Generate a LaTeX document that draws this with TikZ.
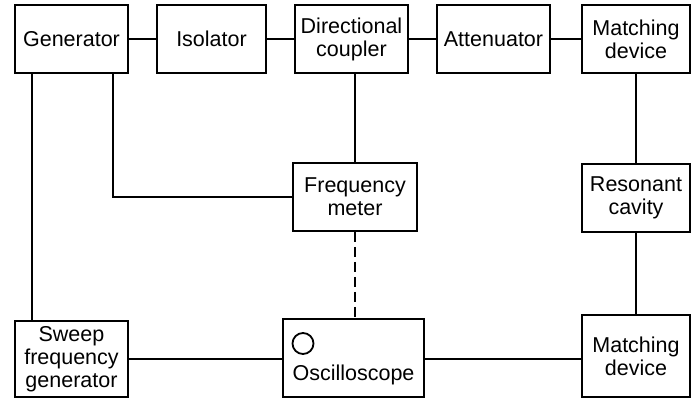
\documentclass[tikz,border=0pt]{standalone}
\usepackage{fontspec}
\setmainfont{Liberation Sans}
\begin{document}
\begin{tikzpicture}[x=1pt,y=-1pt,
  every node/.style={font=\fontsize{21.5}{23}\selectfont},
  box/.style={draw,line width=1.8pt,rectangle,inner sep=0pt,align=center,minimum height=68pt},
  wire/.style={line width=1.8pt}]
\useasboundingbox (0,0) rectangle (695,398);
\node[box,minimum width=113pt] (gen) at (71.5,39) {Generator};
\node[box,minimum width=109pt] (iso) at (211.5,39) {Isolator};
\node[box,minimum width=113pt] (dc) at (351.5,39) {Directional\\coupler};
\node[box,minimum width=113pt] (att) at (493.5,39) {Attenuator};
\node[box,minimum width=108pt] (md1) at (636,39) {Matching\\device};
\node[box,minimum width=124pt] (fm) at (355,197) {Frequency\\meter};
\node[box,minimum width=108pt] (rc) at (636,198) {Resonant\\cavity};
\node[box,minimum width=113pt,minimum height=76pt] (sw) at (71.5,359) {Sweep\\frequency\\generator};
\node[box,minimum width=141pt,minimum height=78pt] (osc) at (353.5,358) {};
\node[draw,circle,line width=1.8pt,inner sep=0pt,minimum size=21pt] (knob) at (303,343.5) {};
\node[anchor=base,inner sep=0pt] (osctext) at (353.5,380) {Oscilloscope};
\node[box,minimum width=108pt,minimum height=82pt] (md2) at (636,356) {Matching\\device};
\draw[wire] (gen.east) -- (iso.west);
\draw[wire] (iso.east) -- (dc.west);
\draw[wire] (dc.east) -- (att.west);
\draw[wire] (att.east) -- (md1.west);
\draw[wire] ([xshift=-39.5pt]gen.south) -- ([xshift=-39.5pt]gen.south |- sw.north);
\draw[wire] ([xshift=41.5pt]gen.south) |- (fm.west);
\draw[wire] (fm.north) -- (fm.north |- dc.south);
\draw[wire,dash pattern=on 10pt off 5pt] (fm.south) -- (fm.south |- osc.north);
\draw[wire] (md1.south) -- (rc.north);
\draw[wire] (rc.south) -- (md2.north);
\draw[wire] (sw.east) -- (sw.east -| osc.west);
\draw[wire] (osc.east |- sw.east) -- (md2.west |- sw.east);
\end{tikzpicture}
\end{document}
